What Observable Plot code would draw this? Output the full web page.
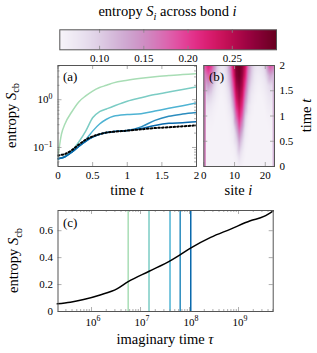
<!DOCTYPE html>
<html><head><meta charset="utf-8">
<script src="https://cdn.jsdelivr.net/npm/d3@7"></script>
<script src="https://cdn.jsdelivr.net/npm/@observablehq/plot@0.6"></script>
<style>
body{margin:0;background:#fff;}
#root{position:relative;width:317px;height:353px;overflow:hidden;background:#fff;font-family:"Liberation Serif",serif;}
#root svg{position:absolute;left:0;top:0;}
#root svg text{font-family:"Liberation Serif",serif;}
</style></head><body><div id="root"></div>
<script>
// ---------- data ----------
const timeA = [0, 0.05, 0.1, 0.2, 0.3, 0.4, 0.5, 0.6, 0.7, 0.8, 1.0, 1.2, 1.4, 1.6, 1.8, 2.0];
const entropyA1 = [0.065, 0.19, 0.31, 0.56, 0.90, 1.2, 1.52, 1.8, 2.0, 2.25, 2.55, 2.8, 3.02, 3.2, 3.37, 3.5];
const entropyA2 = [0.058, 0.06, 0.066, 0.085, 0.13, 0.22, 0.42, 0.56, 0.64, 0.73, 0.93, 1.1, 1.28, 1.45, 1.63, 1.85];
const entropyA3 = [0.058, 0.06, 0.064, 0.08, 0.105, 0.145, 0.22, 0.31, 0.39, 0.45, 0.49, 0.51, 0.58, 0.66, 0.75, 0.86];
const entropyA4 = [0.058, 0.06, 0.064, 0.08, 0.105, 0.135, 0.165, 0.19, 0.205, 0.215, 0.228, 0.27, 0.37, 0.45, 0.50, 0.54];
const entropyA5 = [0.058, 0.06, 0.064, 0.08, 0.105, 0.135, 0.165, 0.19, 0.205, 0.215, 0.228, 0.25, 0.29, 0.32, 0.33, 0.345];
const entropyDotted = [0.068, 0.07, 0.073, 0.088, 0.115, 0.145, 0.17, 0.19, 0.205, 0.213, 0.225, 0.24, 0.255, 0.265, 0.278, 0.29];

const sitesB = [0,1,2,3,4,5,6,7,8,9,10,11,12,13,14,15,16,17,18,19,20,21,22];
const timesB = [0, 0.2, 0.4, 0.6, 0.8, 1.0, 1.2, 1.4, 1.6, 1.8, 2.0];
const entropyB = [
 [.058,.058,.058,.058,.058,.058,.058,.058,.058,.058,.060,.066,.060,.058,.058,.058,.058,.058,.058,.058,.058,.058,.058],
 [.058,.058,.058,.058,.058,.058,.058,.058,.058,.059,.066,.085,.068,.059,.058,.058,.058,.058,.058,.058,.058,.058,.058],
 [.058,.058,.058,.058,.058,.058,.058,.058,.058,.062,.078,.115,.085,.062,.058,.058,.058,.058,.058,.058,.058,.058,.058],
 [.058,.058,.058,.058,.058,.058,.058,.058,.060,.068,.097,.150,.110,.070,.060,.058,.058,.058,.058,.058,.058,.058,.058],
 [.060,.060,.060,.058,.058,.058,.058,.058,.062,.078,.130,.190,.145,.082,.062,.058,.058,.058,.058,.058,.058,.060,.060],
 [.065,.066,.064,.060,.058,.058,.058,.060,.068,.092,.170,.220,.180,.100,.068,.060,.058,.058,.058,.058,.060,.063,.062],
 [.075,.078,.072,.064,.060,.058,.058,.063,.077,.120,.205,.245,.210,.130,.080,.064,.058,.058,.058,.058,.065,.070,.068],
 [.090,.100,.090,.075,.064,.058,.060,.070,.090,.150,.235,.265,.235,.160,.100,.072,.062,.058,.058,.062,.070,.078,.074],
 [.120,.140,.120,.090,.070,.062,.064,.080,.110,.180,.260,.280,.255,.190,.120,.085,.068,.062,.062,.068,.078,.090,.085],
 [.160,.180,.160,.120,.085,.065,.070,.090,.130,.210,.280,.295,.270,.220,.140,.100,.075,.067,.068,.076,.100,.130,.120],
 [.190,.220,.200,.150,.100,.080,.080,.100,.150,.230,.290,.300,.280,.240,.160,.110,.085,.075,.078,.090,.140,.190,.170]
];

const tauLines = [5.6e6, 1.49e7, 4.0e7, 6.45e7, 1.06e8];
const tauC = [2.0e5, 3.7e5, 6.9e5, 1.5e6, 3.3e6, 5.6e6, 1.5e7, 4.1e7, 6.5e7, 1.07e8, 2.7e8, 6.9e8, 1.74e9, 3.3e9, 5.1e9];
const entropyC = [0.057, 0.069, 0.089, 0.123, 0.168, 0.222, 0.299, 0.378, 0.422, 0.472, 0.55, 0.612, 0.674, 0.706, 0.748];

const cbTicks = [0.10, 0.15, 0.20, 0.25];
const xTicksA = [0, 0.5, 1, 1.5, 2];
const yTicksA = [0.1, 1];
const yMinorA = [0.05,0.06,0.07,0.08,0.09,0.2,0.3,0.4,0.5,0.6,0.7,0.8,0.9,2,3,4,5];
const xTicksB = [0, 10, 20];
const yTicksB = [0, 0.5, 1, 1.5, 2];
const xTicksC = [1e6, 1e7, 1e8, 1e9];
const xMinorC = [3e5,4e5,5e5,6e5,7e5,8e5,9e5,2e6,3e6,4e6,5e6,6e6,7e6,8e6,9e6,2e7,3e7,4e7,5e7,6e7,7e7,8e7,9e7,2e8,3e8,4e8,5e8,6e8,7e8,8e8,9e8,2e9,3e9,4e9,5e9];
const yTicksC = [0, 0.2, 0.4, 0.6];

// ---------- styles ----------
const W = 317, H = 353;
const FONT = '"Liberation Serif", serif';
const palette = ["#a8ddb5", "#7bccc4", "#4eb3d3", "#2b8cbe", "#0868ac"];
const FRAME = "#555", TICK = "#999";
const TICKPX = 11, LABELFS = 14.5;
const colorScale = {type: "linear", scheme: "PuRd", domain: [0.055, 0.30]};

const root = document.getElementById("root");
function box(l, t, r, b) { return {width: W, height: H, marginLeft: l, marginTop: t, marginRight: W - r, marginBottom: H - b}; }
const baseStyle = {background: "none", fontFamily: FONT, fontSize: TICKPX + "px", color: "black", overflow: "visible"};
function inX(vals, len, fh, stroke = TICK) {
  return [Plot.tickX(vals, {x: d => d, insetTop: fh - len, stroke, strokeWidth: 0.8}),
          Plot.tickX(vals, {x: d => d, insetBottom: fh - len, stroke, strokeWidth: 0.8})];
}
function inY(vals, len, fw, stroke = TICK) {
  return [Plot.tickY(vals, {y: d => d, insetRight: fw - len, stroke, strokeWidth: 0.8}),
          Plot.tickY(vals, {y: d => d, insetLeft: fw - len, stroke, strokeWidth: 0.8})];
}

// ---------- colorbar ----------
{
  const L = 59.3, T = 29.3, R = 276, B = 49.3;
  const svg = Plot.plot({
    ...box(L, T, R, B), style: baseStyle,
    x: {domain: [0.055, 0.30]}, y: {domain: [0, 1], axis: null}, color: colorScale,
    marks: [
      Plot.raster({fill: (x, y) => x, x1: 0.055, x2: 0.30, y1: 0, y2: 1, pixelSize: 1}),
      ...inX(cbTicks, 3.5, B - T, "#888"),
      Plot.axisX({ticks: cbTicks, tickSize: 0, tickPadding: 4, label: null, tickFormat: d => d.toFixed(2)}),
      Plot.frame({stroke: FRAME})
    ]
  });
  root.appendChild(svg);
}

// ---------- panel (a) ----------
let scaleAy;
{
  const L = 57.5, T = 65, R = 196, B = 166;
  const series = [entropyA1, entropyA2, entropyA3, entropyA4, entropyA5];
  const svg = Plot.plot({
    ...box(L, T, R, B), style: baseStyle,
    x: {domain: [0, 2]}, y: {type: "log", domain: [0.04, 5.2], axis: null},
    marks: [
      ...series.map((s, k) => Plot.line(timeA, {x: d => d, y: (d, i) => s[i], stroke: palette[k], strokeWidth: 1.5, curve: "monotone-x", clip: true})),
      Plot.line(timeA, {x: d => d, y: (d, i) => entropyDotted[i], stroke: "black", strokeWidth: 2, strokeDasharray: "1.6 2.2", curve: "monotone-x", clip: true}),
      ...inX(xTicksA, 4, B - T),
      ...inY(yTicksA, 4, R - L),
      ...inY(yMinorA, 2, R - L),
      Plot.axisX({ticks: xTicksA, tickSize: 0, tickPadding: 5, label: null, tickFormat: d => String(d)}),
      Plot.frame({stroke: FRAME})
    ]
  });
  scaleAy = svg.scale("y");
  root.appendChild(svg);
}

// ---------- panel (b) ----------
{
  const L = 203.3, T = 65, R = 274, B = 166;
  const cells = timesB.flatMap((t, r) => sitesB.map((s, c) => ({site: s, t, v: entropyB[r][c]})));
  const svg = Plot.plot({
    ...box(L, T, R, B), style: baseStyle,
    x: {domain: [0, 23]}, y: {domain: [0, 2]}, color: colorScale,
    marks: [
      Plot.raster(cells, {x: d => d.site + 0.5, y: "t", fill: "v", interpolate: "barycentric", pixelSize: 1}),
      ...inX(xTicksB, 4, B - T),
      ...inY(yTicksB, 4, R - L),
      Plot.axisX({ticks: xTicksB, tickSize: 0, tickPadding: 5, label: null, tickFormat: d => String(d)}),
      Plot.axisY({anchor: "right", ticks: yTicksB, tickSize: 0, tickPadding: 5, label: null, tickFormat: d => String(d)}),
      Plot.frame({stroke: FRAME})
    ]
  });
  root.appendChild(svg);
}

// ---------- panel (c) ----------
let scaleCx;
{
  const L = 57.5, T = 210, R = 272.7, B = 311;
  const svg = Plot.plot({
    ...box(L, T, R, B), style: baseStyle,
    x: {type: "log", domain: [2.07e5, 5.1e9], axis: null}, y: {domain: [0, 0.75]},
    marks: [
      ...tauLines.map((v, k) => Plot.ruleX([v], {x: d => d, stroke: palette[k], strokeWidth: 1.5})),
      Plot.line(tauC, {x: d => d, y: (d, i) => entropyC[i], stroke: "black", strokeWidth: 1.5, curve: "monotone-x"}),
      ...inX(xTicksC, 4, B - T),
      ...inX(xMinorC, 2, B - T),
      ...inY(yTicksC, 4, R - L),
      Plot.axisY({ticks: yTicksC, tickSize: 0, tickPadding: 5, label: null, tickFormat: d => String(d)}),
      Plot.frame({stroke: FRAME})
    ]
  });
  scaleCx = svg.scale("x");
  root.appendChild(svg);
}

// ---------- text overlay ----------
const ov = d3.select(root).append("svg").attr("width", W).attr("height", H)
  .style("overflow", "visible");
function rich(x, y, parts, {size = LABELFS, anchor = "middle", rotate = 0} = {}) {
  const t = ov.append("text").attr("text-anchor", anchor).attr("font-size", size)
    .attr("transform", `translate(${x},${y}) rotate(${rotate})`);
  let shift = 0;
  for (const [txt, st] of parts) {
    const sp = t.append("tspan").text(txt);
    const tags = st.split(" ");
    const want = tags.includes("sub") ? size * 0.25 : tags.includes("sup") ? -size * 0.38 : 0;
    if (want !== shift) { sp.attr("dy", want - shift); shift = want; }
    if (tags.includes("i")) sp.attr("font-style", "italic");
    if (tags.includes("sub") || tags.includes("sup")) sp.attr("font-size", size * 0.72);
  }
  return t;
}
const expo = v => String(Math.round(Math.log10(v))).replace("-", "\u2212");
// log-axis tick labels placed through the plots' own scales
for (const v of yTicksA) rich(52.5, scaleAy.apply(v) + 4, [["10", ""], [expo(v), "sup"]], {size: TICKPX, anchor: "end"});
for (const v of xTicksC) rich(scaleCx.apply(v) + 2, 325.5, [["10", ""], [expo(v), "sup"]], {size: TICKPX});

rich(167.5, 16, [["entropy ", ""], ["S", "i"], ["i", "sub i"], [" across bond ", ""], ["i", "i"]]);
rich(15.5, 115.5, [["entropy ", ""], ["S", "i"], ["cb", "sub"]], {rotate: -90});
rich(18, 260.5, [["entropy ", ""], ["S", "i"], ["cb", "sub"]], {rotate: -90});
rich(311, 115.5, [["time ", ""], ["t", "i"]], {rotate: -90});
rich(127, 195, [["time ", ""], ["t", "i"]]);
rich(238.5, 195, [["site ", ""], ["i", "i"]]);
rich(165, 344, [["imaginary time ", ""], ["\u03c4", "i"]]);
rich(63, 81, [["(a)", ""]], {size: 13, anchor: "start"});
rich(209, 81, [["(b)", ""]], {size: 13, anchor: "start"});
rich(63, 227, [["(c)", ""]], {size: 13, anchor: "start"});
</script></body></html>
